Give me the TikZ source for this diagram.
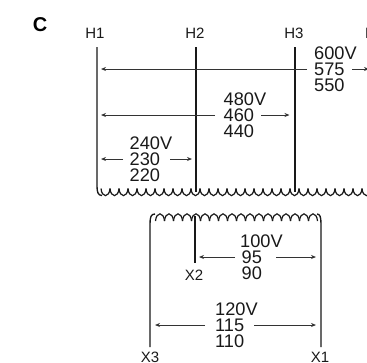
\documentclass[tikz,border=0pt]{standalone}
\usepackage{fontspec}
\setmainfont{Liberation Sans}
\usetikzlibrary{arrows.meta}
\tikzset{
  wire/.style={line width=1.35pt,black!90},
  coilline/.style={line width=1.2pt,black!90},
  dim/.style={line width=0.85pt,black!80,-{Stealth[length=5pt,width=4pt]}},
  volt/.style={inner sep=0pt,align=left,font=\fontsize{18.2}{16}\selectfont,text=black!90},
  term/.style={inner sep=0pt,font=\fontsize{15}{15}\selectfont,text=black!90}
}
\begin{document}
\begin{tikzpicture}[x=1pt,y=-1pt]
\useasboundingbox (0,0) rectangle (367,362);
\clip (0,0) rectangle (367,362);
\node[inner sep=0pt,font=\fontsize{20}{20}\selectfont\bfseries] (c) at (40,25) {C};
\node[term] (h1) at (95,33) {H1};
\node[term] (h2) at (195,33) {H2};
\node[term] (h3) at (294,33) {H3};
\node[term,anchor=west] (h4) at (365,33) {H4};
\node[term] (x2) at (194,275) {X2};
\node[term] (x3) at (150,357) {X3};
\node[term] (x1) at (320,357) {X1};
% coordinates
\coordinate (t1) at (97,47); \coordinate (b1) at (97,186);
\coordinate (t2) at (196,47); \coordinate (b2) at (196,192);
\coordinate (t3) at (295,47); \coordinate (b3) at (295,192);
\coordinate (tx2) at (195,216); \coordinate (bx2) at (195,263);
\coordinate (tx3) at (150,224); \coordinate (bx3) at (150,347);
\coordinate (tx1) at (321,224); \coordinate (bx1) at (321,347);
\draw[wire] (t1)--(b1) .. controls (97,192) and (98,195.5) .. (102,195.5);
\draw[wire] (t2)--(b2);
\draw[wire] (t3)--(b3);
\draw[wire] (tx2)--(bx2);
\draw[wire] (bx3)--(tx3) .. controls (150,217) and (151,214) .. (155,214);
\draw[wire] (bx1)--(tx1) .. controls (321,217) and (320,214) .. (317,214);
% upper coil
\foreach \i in {0,...,29}{
  \pgfmathsetmacro{\xa}{101+9*\i}
  \draw[coilline] (\xa,188.5) .. controls (\xa+0.8,198) and (\xa+8.2,198) .. (\xa+9,188.5);
}
% lower coil
\foreach \i in {0,...,17}{
  \pgfmathsetmacro{\xa}{155.5+9*\i}
  \draw[coilline] (\xa,221) .. controls (\xa+0.8,211.5) and (\xa+8.2,211.5) .. (\xa+9,221);
}
% labels
\node[volt,anchor=west] (v600) at (314,69) {600V\\575\\550};
\node[volt,anchor=west] (v480) at (223.5,115) {480V\\460\\440};
\node[volt,anchor=west] (v240) at (129.5,159) {240V\\230\\220};
\node[volt,anchor=west] (v100) at (240,257) {100V\\\hspace{1.5pt}95\\\hspace{1.5pt}90};
\node[volt,anchor=west] (v120) at (215,325) {120V\\115\\110};
% dimension arrows
\coordinate (a1l) at (101,69); \coordinate (a1m) at (307,69); \coordinate (a1n) at (352,69); \coordinate (a1r) at (369,69);
\coordinate (a2l) at (101,115); \coordinate (a2m) at (215,115); \coordinate (a2n) at (261,115); \coordinate (a2r) at (289.5,115);
\coordinate (a3l) at (101,159); \coordinate (a3m) at (123,159); \coordinate (a3n) at (170,159); \coordinate (a3r) at (192,159);
\coordinate (a4l) at (199,257); \coordinate (a4m) at (235,257); \coordinate (a4n) at (276,257); \coordinate (a4r) at (316,257);
\coordinate (a5l) at (155,325); \coordinate (a5m) at (205,325); \coordinate (a5n) at (254,325); \coordinate (a5r) at (316,325);
\foreach \k in {1,...,5}{
  \draw[dim] (a\k m)--(a\k l);
  \draw[dim] (a\k n)--(a\k r);
}
\end{tikzpicture}
\end{document}
